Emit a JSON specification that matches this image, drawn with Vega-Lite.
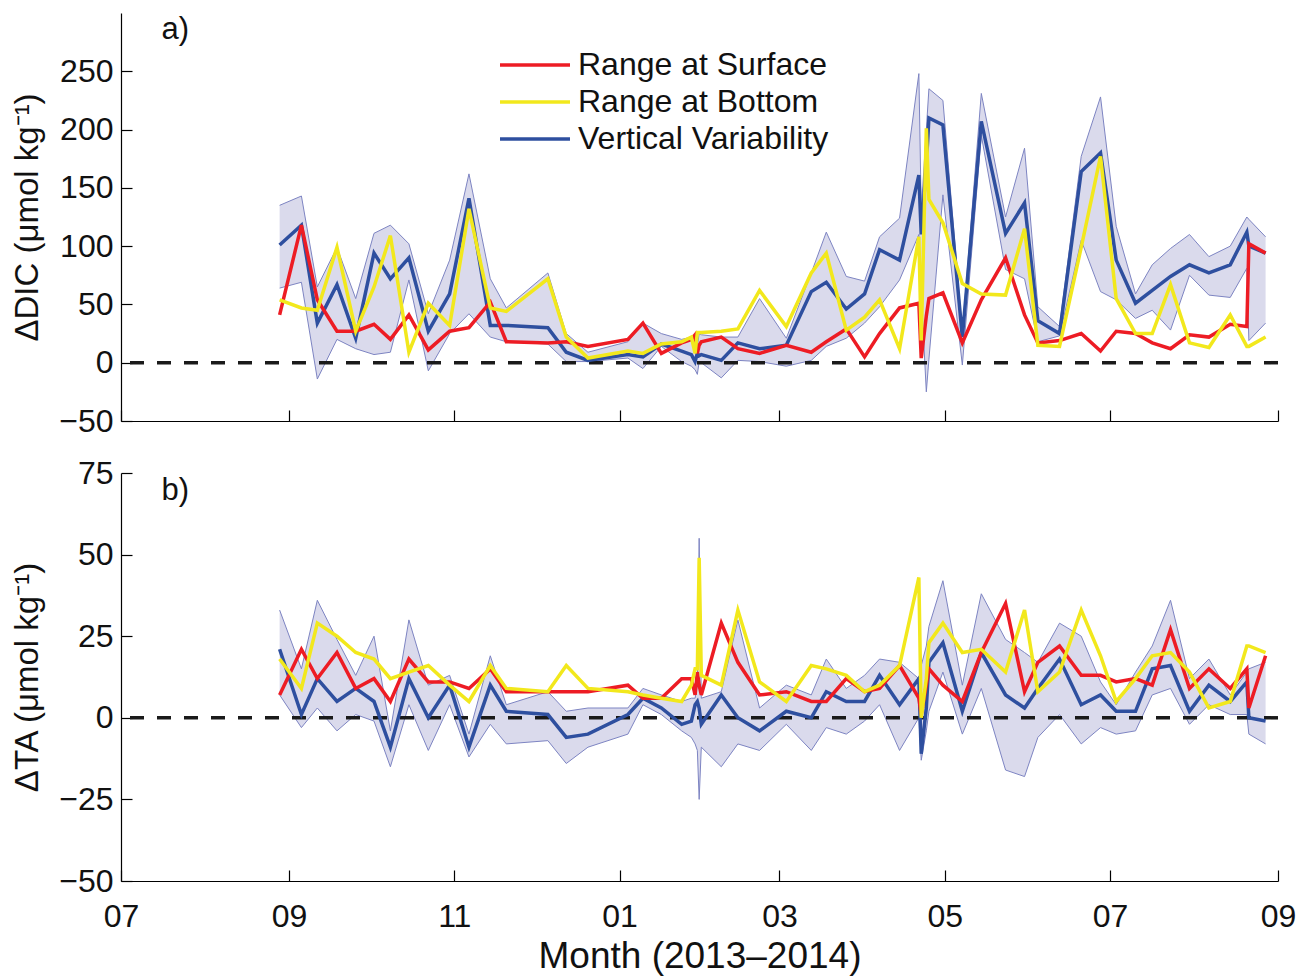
{
  "$schema": "https://vega.github.io/schema/vega-lite/v6.json",
  "background": "white",
  "padding": {"left": 11, "top": 13, "right": 20, "bottom": 5},
  "bounds": "flush",
  "spacing": 52,
  "config": {
    "font": "Liberation Sans",
    "view": {"stroke": null},
    "axis": {
      "grid": false,
      "domainColor": "#000",
      "domainWidth": 1.2,
      "tickColor": "#000",
      "tickWidth": 1.2,
      "tickSize": -11,
      "labelFont": "Liberation Sans",
      "labelFontSize": 32,
      "labelColor": "#111",
      "titleFont": "Liberation Sans",
      "titleFontSize": 33,
      "titleFontWeight": "normal",
      "titleColor": "#111"
    }
  },
  "resolve": {"legend": {"color": "independent"}},
  "datasets": {
    "dic": [
      {"date": "2013-08-28T13:00", "surface": 41, "bottom": 54, "vertical": 101, "lo": 64, "hi": 135},
      {"date": "2013-09-05T14:00", "surface": 118, "bottom": 47, "vertical": 118, "lo": 69, "hi": 143},
      {"date": "2013-09-11T11:00", "surface": 54, "bottom": 45, "vertical": 34, "lo": -14, "hi": 65},
      {"date": "2013-09-18T17:00", "surface": 27, "bottom": 99, "vertical": 67, "lo": 20, "hi": 99},
      {"date": "2013-09-25T15:00", "surface": 27, "bottom": 27, "vertical": 21, "lo": 12, "hi": 55},
      {"date": "2013-10-02T09:00", "surface": 33, "bottom": 65, "vertical": 94, "lo": 7, "hi": 111},
      {"date": "2013-10-08T10:00", "surface": 20, "bottom": 109, "vertical": 72, "lo": 9, "hi": 118},
      {"date": "2013-10-15T06:00", "surface": 41, "bottom": 9, "vertical": 90, "lo": 71, "hi": 102},
      {"date": "2013-10-22T10:00", "surface": 11, "bottom": 51, "vertical": 27, "lo": -7, "hi": 42},
      {"date": "2013-10-30T07:00", "surface": 27, "bottom": 32, "vertical": 59, "lo": 25, "hi": 88},
      {"date": "2013-11-06T10:00", "surface": 30, "bottom": 132, "vertical": 141, "lo": 42, "hi": 162},
      {"date": "2013-11-14T07:00", "surface": 52, "bottom": 47, "vertical": 32, "lo": 22, "hi": 72},
      {"date": "2013-11-20T05:00", "surface": 18, "bottom": 44, "vertical": 32, "lo": 18, "hi": 47},
      {"date": "2013-12-05T13:00", "surface": 17, "bottom": 72, "vertical": 30, "lo": 16, "hi": 77},
      {"date": "2013-12-12T08:00", "surface": 18, "bottom": 22, "vertical": 9, "lo": 1, "hi": 25},
      {"date": "2013-12-20T08:00", "surface": 14, "bottom": 4, "vertical": 2, "lo": 1, "hi": 9},
      {"date": "2014-01-04T02:00", "surface": 20, "bottom": 10, "vertical": 7, "lo": 4, "hi": 18},
      {"date": "2014-01-09T15:00", "surface": 34, "bottom": 8, "vertical": 5, "lo": -5, "hi": 34},
      {"date": "2014-01-16T10:00", "surface": 8, "bottom": 16, "vertical": 16, "lo": 14, "hi": 25},
      {"date": "2014-01-23T22:00", "surface": 17, "bottom": 18, "vertical": 10, "lo": 1, "hi": 20},
      {"date": "2014-01-27T12:00", "surface": 20, "bottom": 22, "vertical": 7, "lo": -3, "hi": 22},
      {"date": "2014-01-28T21:00", "surface": 24, "bottom": 8, "vertical": 1, "lo": -6, "hi": 10},
      {"date": "2014-01-29T17:00", "surface": 8, "bottom": 26, "vertical": 8, "lo": -10, "hi": 14},
      {"date": "2014-01-30T09:00", "surface": 15, "bottom": 26, "vertical": 6, "lo": 1, "hi": 25},
      {"date": "2014-01-31T04:00", "surface": 18, "bottom": 26, "vertical": 7, "lo": 0, "hi": 24},
      {"date": "2014-02-07T13:00", "surface": 22, "bottom": 27, "vertical": 2, "lo": -13, "hi": 22},
      {"date": "2014-02-13T16:00", "surface": 12, "bottom": 29, "vertical": 17, "lo": 2, "hi": 22},
      {"date": "2014-02-21T16:00", "surface": 8, "bottom": 62, "vertical": 12, "lo": 1, "hi": 55},
      {"date": "2014-03-03T13:00", "surface": 15, "bottom": 31, "vertical": 15, "lo": -3, "hi": 21},
      {"date": "2014-03-12T18:00", "surface": 9, "bottom": 77, "vertical": 61, "lo": 2, "hi": 77},
      {"date": "2014-03-18T07:00", "surface": 18, "bottom": 94, "vertical": 69, "lo": 14, "hi": 112},
      {"date": "2014-03-25T16:00", "surface": 29, "bottom": 28, "vertical": 46, "lo": 21, "hi": 74},
      {"date": "2014-04-01T10:00", "surface": 5, "bottom": 39, "vertical": 59, "lo": 34, "hi": 70},
      {"date": "2014-04-06T23:00", "surface": 25, "bottom": 54, "vertical": 97, "lo": 48, "hi": 108},
      {"date": "2014-04-14T08:00", "surface": 47, "bottom": 12, "vertical": 88, "lo": 71, "hi": 124},
      {"date": "2014-04-21T11:00", "surface": 51, "bottom": 108, "vertical": 161, "lo": 110, "hi": 248},
      {"date": "2014-04-22T08:00", "surface": 4, "bottom": 19, "vertical": 110, "lo": 60, "hi": 130},
      {"date": "2014-04-24T05:00", "surface": 40, "bottom": 201, "vertical": 170, "lo": -25, "hi": 200},
      {"date": "2014-04-25T04:00", "surface": 55, "bottom": 140, "vertical": 210, "lo": 3, "hi": 235},
      {"date": "2014-04-30T08:00", "surface": 60, "bottom": 120, "vertical": 204, "lo": 144, "hi": 225},
      {"date": "2014-05-07T12:00", "surface": 17, "bottom": 68, "vertical": 22, "lo": -2, "hi": 26},
      {"date": "2014-05-14T12:00", "surface": 54, "bottom": 59, "vertical": 207, "lo": 195, "hi": 231},
      {"date": "2014-05-23T11:00", "surface": 90, "bottom": 58, "vertical": 111, "lo": 80, "hi": 125},
      {"date": "2014-05-30T11:00", "surface": 41, "bottom": 115, "vertical": 137, "lo": 72, "hi": 184},
      {"date": "2014-06-04T09:00", "surface": 17, "bottom": 15, "vertical": 36, "lo": 18, "hi": 48},
      {"date": "2014-06-12T09:00", "surface": 19, "bottom": 14, "vertical": 25, "lo": 23, "hi": 31},
      {"date": "2014-06-20T09:00", "surface": 25, "bottom": 99, "vertical": 164, "lo": 105, "hi": 177},
      {"date": "2014-06-27T12:00", "surface": 10, "bottom": 177, "vertical": 180, "lo": 61, "hi": 228},
      {"date": "2014-07-03T07:00", "surface": 27, "bottom": 55, "vertical": 88, "lo": 54, "hi": 117},
      {"date": "2014-07-10T10:00", "surface": 25, "bottom": 25, "vertical": 51, "lo": 38, "hi": 59},
      {"date": "2014-07-16T14:00", "surface": 17, "bottom": 25, "vertical": 62, "lo": 45, "hi": 84},
      {"date": "2014-07-23T08:00", "surface": 12, "bottom": 67, "vertical": 74, "lo": 28, "hi": 98},
      {"date": "2014-07-30T08:00", "surface": 24, "bottom": 17, "vertical": 84, "lo": 75, "hi": 110},
      {"date": "2014-08-06T12:00", "surface": 22, "bottom": 13, "vertical": 77, "lo": 58, "hi": 91},
      {"date": "2014-08-14T09:00", "surface": 33, "bottom": 41, "vertical": 84, "lo": 56, "hi": 100},
      {"date": "2014-08-20T12:00", "surface": 31, "bottom": 14, "vertical": 112, "lo": 81, "hi": 125},
      {"date": "2014-08-21T06:00", "surface": 102, "bottom": 14, "vertical": 100, "lo": 19, "hi": 123},
      {"date": "2014-08-27T10:00", "surface": 94, "bottom": 22, "vertical": 94, "lo": 34, "hi": 108}
    ],
    "ta": [
      {"date": "2013-08-28T13:00", "surface": 7, "bottom": 18, "vertical": 21, "lo": 7, "hi": 33},
      {"date": "2013-09-05T14:00", "surface": 21, "bottom": 9, "vertical": 1, "lo": -3, "hi": 15},
      {"date": "2013-09-11T11:00", "surface": 12, "bottom": 29, "vertical": 12, "lo": 3, "hi": 36},
      {"date": "2013-09-18T17:00", "surface": 20, "bottom": 25, "vertical": 5, "lo": -4, "hi": 24},
      {"date": "2013-09-25T15:00", "surface": 9, "bottom": 20, "vertical": 9, "lo": 1, "hi": 13},
      {"date": "2013-10-02T09:00", "surface": 12, "bottom": 18, "vertical": 5, "lo": -1, "hi": 25},
      {"date": "2013-10-08T10:00", "surface": 5, "bottom": 12, "vertical": -9, "lo": -15, "hi": -4},
      {"date": "2013-10-15T06:00", "surface": 18, "bottom": 14, "vertical": 12, "lo": 4, "hi": 30},
      {"date": "2013-10-22T10:00", "surface": 11, "bottom": 16, "vertical": 0, "lo": -10, "hi": 10},
      {"date": "2013-10-30T07:00", "surface": 11, "bottom": 10, "vertical": 10, "lo": 4, "hi": 13},
      {"date": "2013-11-06T10:00", "surface": 9, "bottom": 5, "vertical": -9, "lo": -12, "hi": -5},
      {"date": "2013-11-14T07:00", "surface": 15, "bottom": 16, "vertical": 10, "lo": -2, "hi": 19},
      {"date": "2013-11-20T05:00", "surface": 8, "bottom": 9, "vertical": 2, "lo": -8, "hi": 4},
      {"date": "2013-12-05T13:00", "surface": 8, "bottom": 8, "vertical": 1, "lo": -7, "hi": 8},
      {"date": "2013-12-12T08:00", "surface": 8, "bottom": 16, "vertical": -6, "lo": -14, "hi": 2},
      {"date": "2013-12-20T08:00", "surface": 8, "bottom": 9, "vertical": -5, "lo": -9, "hi": 3},
      {"date": "2014-01-04T02:00", "surface": 10, "bottom": 8, "vertical": 1, "lo": -5, "hi": 3},
      {"date": "2014-01-09T15:00", "surface": 6, "bottom": 7, "vertical": 6, "lo": 4, "hi": 9},
      {"date": "2014-01-16T10:00", "surface": 6, "bottom": 6, "vertical": 3, "lo": 1, "hi": 7},
      {"date": "2014-01-23T22:00", "surface": 12, "bottom": 5, "vertical": -2, "lo": -4, "hi": 5},
      {"date": "2014-01-27T12:00", "surface": 12, "bottom": 10, "vertical": -1, "lo": -6, "hi": 6},
      {"date": "2014-01-28T21:00", "surface": 7, "bottom": 15, "vertical": 4, "lo": -8, "hi": 6},
      {"date": "2014-01-29T17:00", "surface": 14, "bottom": 15, "vertical": 5, "lo": -10, "hi": 10},
      {"date": "2014-01-30T09:00", "surface": 10, "bottom": 49, "vertical": 3, "lo": -25, "hi": 55},
      {"date": "2014-01-31T04:00", "surface": 7, "bottom": 13, "vertical": -2, "lo": -9, "hi": 6},
      {"date": "2014-02-07T13:00", "surface": 29, "bottom": 10, "vertical": 7, "lo": -15, "hi": 8},
      {"date": "2014-02-13T16:00", "surface": 17, "bottom": 33, "vertical": 0, "lo": -8, "hi": 30},
      {"date": "2014-02-21T16:00", "surface": 7, "bottom": 11, "vertical": -4, "lo": -10, "hi": 3},
      {"date": "2014-03-03T13:00", "surface": 8, "bottom": 5, "vertical": 2, "lo": -2, "hi": 10},
      {"date": "2014-03-12T18:00", "surface": 5, "bottom": 16, "vertical": 0, "lo": -10, "hi": 7},
      {"date": "2014-03-18T07:00", "surface": 5, "bottom": 15, "vertical": 8, "lo": -3, "hi": 18},
      {"date": "2014-03-25T16:00", "surface": 12, "bottom": 13, "vertical": 5, "lo": -5, "hi": 9},
      {"date": "2014-04-01T10:00", "surface": 8, "bottom": 8, "vertical": 5, "lo": -1, "hi": 13},
      {"date": "2014-04-06T23:00", "surface": 9, "bottom": 10, "vertical": 13, "lo": 4, "hi": 18},
      {"date": "2014-04-14T08:00", "surface": 16, "bottom": 16, "vertical": 4, "lo": -10, "hi": 17},
      {"date": "2014-04-21T11:00", "surface": 6, "bottom": 43, "vertical": 12, "lo": 0, "hi": 12},
      {"date": "2014-04-22T08:00", "surface": 1, "bottom": 0, "vertical": -11, "lo": -13, "hi": 16},
      {"date": "2014-04-24T05:00", "surface": 10, "bottom": 12, "vertical": 3, "lo": -4, "hi": 22},
      {"date": "2014-04-25T04:00", "surface": 15, "bottom": 23, "vertical": 17, "lo": 2, "hi": 28},
      {"date": "2014-04-30T08:00", "surface": 10, "bottom": 29, "vertical": 23, "lo": 14, "hi": 42},
      {"date": "2014-05-07T12:00", "surface": 5, "bottom": 20, "vertical": 2, "lo": -5, "hi": 10},
      {"date": "2014-05-14T12:00", "surface": 20, "bottom": 21, "vertical": 20, "lo": 9, "hi": 38},
      {"date": "2014-05-23T11:00", "surface": 35, "bottom": 14, "vertical": 7, "lo": -16, "hi": 24},
      {"date": "2014-05-30T11:00", "surface": 8, "bottom": 33, "vertical": 3, "lo": -18, "hi": 20},
      {"date": "2014-06-04T09:00", "surface": 17, "bottom": 8, "vertical": 9, "lo": -6, "hi": 17},
      {"date": "2014-06-12T09:00", "surface": 22, "bottom": 14, "vertical": 18, "lo": 1, "hi": 29},
      {"date": "2014-06-20T09:00", "surface": 13, "bottom": 33, "vertical": 4, "lo": -8, "hi": 25},
      {"date": "2014-06-27T12:00", "surface": 13, "bottom": 19, "vertical": 7, "lo": -3, "hi": 11},
      {"date": "2014-07-03T07:00", "surface": 11, "bottom": 5, "vertical": 2, "lo": -5, "hi": 4},
      {"date": "2014-07-10T10:00", "surface": 12, "bottom": 12, "vertical": 2, "lo": -4, "hi": 14},
      {"date": "2014-07-16T14:00", "surface": 10, "bottom": 19, "vertical": 15, "lo": 7, "hi": 22},
      {"date": "2014-07-23T08:00", "surface": 27, "bottom": 20, "vertical": 16, "lo": 9, "hi": 36},
      {"date": "2014-07-30T08:00", "surface": 9, "bottom": 14, "vertical": 2, "lo": -2, "hi": 12},
      {"date": "2014-08-06T12:00", "surface": 15, "bottom": 3, "vertical": 10, "lo": 4, "hi": 18},
      {"date": "2014-08-14T09:00", "surface": 9, "bottom": 5, "vertical": 5, "lo": 1, "hi": 7},
      {"date": "2014-08-20T12:00", "surface": 15, "bottom": 22, "vertical": 11, "lo": 1, "hi": 14},
      {"date": "2014-08-21T06:00", "surface": 3, "bottom": 22, "vertical": 0, "lo": -5, "hi": 15},
      {"date": "2014-08-27T10:00", "surface": 19, "bottom": 20, "vertical": -1, "lo": -8, "hi": 17}
    ]
  },
  "vconcat": [
    {
      "width": 1157,
      "height": 408,
      "layer": [
        {
          "data": {"name": "dic"},
          "mark": {"type": "area", "color": "#dadaec", "opacity": 1},
          "encoding": {
            "x": {
              "field": "date", "type": "temporal",
              "scale": {"domain": [{"year": 2013, "month": 7, "date": 1}, {"year": 2014, "month": 9, "date": 1}], "nice": false},
              "axis": {
                "title": null, "labels": false,
                "values": [{"year": 2013, "month": 7, "date": 1}, {"year": 2013, "month": 9, "date": 1}, {"year": 2013, "month": 11, "date": 1}, {"year": 2014, "month": 1, "date": 1}, {"year": 2014, "month": 3, "date": 1}, {"year": 2014, "month": 5, "date": 1}, {"year": 2014, "month": 7, "date": 1}, {"year": 2014, "month": 9, "date": 1}]
              }
            },
            "y": {
              "field": "lo", "type": "quantitative",
              "scale": {"domain": [-50, 300], "nice": false, "zero": false},
              "axis": {"title": "ΔDIC  (μmol kg⁻¹)", "values": [-50, 0, 50, 100, 150, 200, 250], "labelPadding": 19, "titlePadding": 14}
            },
            "y2": {"field": "hi"}
          }
        },
        {
          "data": {"name": "dic"},
          "mark": {"type": "line", "color": "#7d84c2", "strokeWidth": 1},
          "encoding": {"x": {"field": "date", "type": "temporal"}, "y": {"field": "lo", "type": "quantitative"}}
        },
        {
          "data": {"name": "dic"},
          "mark": {"type": "line", "color": "#7d84c2", "strokeWidth": 1},
          "encoding": {"x": {"field": "date", "type": "temporal"}, "y": {"field": "hi", "type": "quantitative"}}
        },
        {
          "data": {"values": [{}]},
          "mark": {"type": "rule", "strokeDash": [14, 13], "strokeWidth": 3.5, "color": "#1a1a1a"},
          "encoding": {"y": {"datum": 0}}
        },
        {
          "data": {"name": "dic"},
          "transform": [{"fold": ["vertical", "surface", "bottom"], "as": ["series", "value"]}],
          "mark": {"type": "line", "strokeWidth": 3.5},
          "encoding": {
            "x": {"field": "date", "type": "temporal"},
            "y": {"field": "value", "type": "quantitative"},
            "color": {
              "field": "series", "type": "nominal",
              "scale": {"domain": ["surface", "bottom", "vertical"], "range": ["#ed1c24", "#f2e81c", "#2e4f9f"]},
              "legend": {
                "orient": "none", "legendX": 397, "legendY": 35, "title": null,
                "symbolType": "M-2.333,0H2.333", "symbolSize": 900, "symbolStrokeWidth": 3.5,
                "labelFontSize": 32, "labelFont": "Liberation Sans", "labelColor": "#111",
                "labelOffset": 26, "labelLimit": 500, "padding": 0, "rowPadding": 4,
                "labelExpr": "datum.value == 'surface' ? 'Range at Surface' : datum.value == 'bottom' ? 'Range at Bottom' : 'Vertical Variability'"
              }
            }
          }
        },
        {
          "data": {"values": [{"label": "a)"}]},
          "mark": {"type": "text", "fontSize": 31, "font": "Liberation Sans", "color": "#111"},
          "encoding": {
            "x": {"datum": 1374364800000, "type": "temporal"},
            "y": {"datum": 285, "type": "quantitative"},
            "text": {"field": "label", "type": "nominal"}
          }
        }
      ]
    },
    {
      "width": 1157,
      "height": 408,
      "layer": [
        {
          "data": {"name": "ta"},
          "mark": {"type": "area", "color": "#dadaec", "opacity": 1},
          "encoding": {
            "x": {
              "field": "date", "type": "temporal",
              "scale": {"domain": [{"year": 2013, "month": 7, "date": 1}, {"year": 2014, "month": 9, "date": 1}], "nice": false},
              "axis": {
                "title": "Month (2013–2014)", "titleFontSize": 37, "format": "%m", "labelPadding": 31, "titlePadding": 6, "labelFlush": false,
                "values": [{"year": 2013, "month": 7, "date": 1}, {"year": 2013, "month": 9, "date": 1}, {"year": 2013, "month": 11, "date": 1}, {"year": 2014, "month": 1, "date": 1}, {"year": 2014, "month": 3, "date": 1}, {"year": 2014, "month": 5, "date": 1}, {"year": 2014, "month": 7, "date": 1}, {"year": 2014, "month": 9, "date": 1}]
              }
            },
            "y": {
              "field": "lo", "type": "quantitative",
              "scale": {"domain": [-50, 75], "nice": false, "zero": false},
              "axis": {"title": "ΔTA (μmol kg⁻¹)", "values": [-50, -25, 0, 25, 50, 75], "labelPadding": 19, "titlePadding": 14}
            },
            "y2": {"field": "hi"}
          }
        },
        {
          "data": {"name": "ta"},
          "mark": {"type": "line", "color": "#7d84c2", "strokeWidth": 1},
          "encoding": {"x": {"field": "date", "type": "temporal"}, "y": {"field": "lo", "type": "quantitative"}}
        },
        {
          "data": {"name": "ta"},
          "mark": {"type": "line", "color": "#7d84c2", "strokeWidth": 1},
          "encoding": {"x": {"field": "date", "type": "temporal"}, "y": {"field": "hi", "type": "quantitative"}}
        },
        {
          "data": {"values": [{}]},
          "mark": {"type": "rule", "strokeDash": [14, 13], "strokeWidth": 3.5, "color": "#1a1a1a"},
          "encoding": {"y": {"datum": 0}}
        },
        {
          "data": {"name": "ta"},
          "transform": [{"fold": ["vertical", "surface", "bottom"], "as": ["series", "value"]}],
          "mark": {"type": "line", "strokeWidth": 3.5},
          "encoding": {
            "x": {"field": "date", "type": "temporal"},
            "y": {"field": "value", "type": "quantitative"},
            "color": {
              "field": "series", "type": "nominal",
              "scale": {"domain": ["surface", "bottom", "vertical"], "range": ["#ed1c24", "#f2e81c", "#2e4f9f"]},
              "legend": null
            }
          }
        },
        {
          "data": {"values": [{"label": "b)"}]},
          "mark": {"type": "text", "fontSize": 31, "font": "Liberation Sans", "color": "#111"},
          "encoding": {
            "x": {"datum": 1374364800000, "type": "temporal"},
            "y": {"datum": 69.5, "type": "quantitative"},
            "text": {"field": "label", "type": "nominal"}
          }
        }
      ]
    }
  ]
}
